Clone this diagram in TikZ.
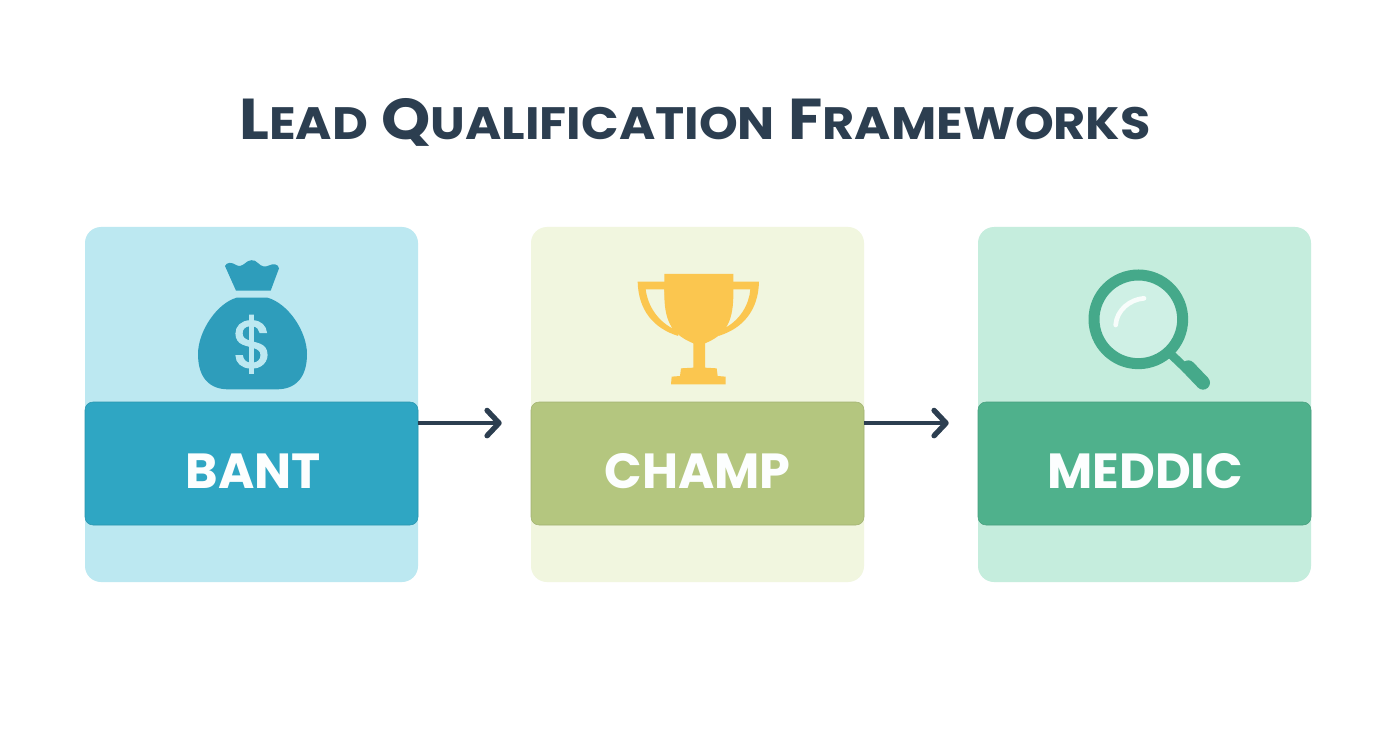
\documentclass[tikz,border=0pt]{standalone}
\usepackage{fontspec}
\usetikzlibrary{arrows.meta}
\setmainfont{Poppins}
\definecolor{inkdark}{HTML}{2C3E50}
\definecolor{bantpanel}{HTML}{BCE8F1}
\definecolor{bantband}{HTML}{2FA6C3}
\definecolor{bagblue}{HTML}{2E9DBB}
\definecolor{champpanel}{HTML}{F1F6DF}
\definecolor{champband}{HTML}{B4C67F}
\definecolor{cupyellow}{HTML}{FBC64F}
\definecolor{meddicpanel}{HTML}{C5EDDD}
\definecolor{meddicband}{HTML}{4FB18C}
\definecolor{lensgreen}{HTML}{45A98A}
\definecolor{lensglass}{HTML}{CFF0E5}
\newcommand{\lowcaps}[1]{{\fontsize{37}{37}\selectfont #1}}

\begin{document}
\begin{tikzpicture}[x=0.75pt,y=-0.75pt]
\tikzstyle{panelbox}=[rectangle,rounded corners=12pt,minimum width=249.75pt,minimum height=266.25pt,inner sep=0pt]
\tikzstyle{bandbox}=[rectangle,rounded corners=6pt,minimum width=249.75pt,minimum height=92.25pt,inner sep=0pt,line width=0.4pt]
\tikzstyle{bandlabel}=[text=white!95!bantpanel,font=\bfseries\fontsize{37}{37}\selectfont,inner sep=0pt]
\tikzstyle{flow}=[draw=inkdark,line width=3.2pt,-{Straight Barb[round,length=9pt,width=19pt,line width=4pt]}]
\useasboundingbox (0,0) rectangle (1392,752);
\fill[white] (0,0) rectangle (1392,752);

\node[text=inkdark,font=\bfseries\fontsize{47}{47}\selectfont,anchor=base,inner sep=0pt,yscale=0.92,transform shape] (title) at (695,140)
  {L\lowcaps{EAD} Q\lowcaps{UALIFICATION} F\lowcaps{RAMEWORKS}};

\node[panelbox,fill=bantpanel] (bantpanel) at (251.5,404.5) {};
\node[panelbox,fill=champpanel] (champpanel) at (697.5,404.5) {};
\node[panelbox,fill=meddicpanel] (meddicpanel) at (1144.5,404.5) {};
\node[bandbox,fill=bantband,draw=bantband!90!black] (bant) at (251.5,463.5) {};
\node[bandbox,fill=champband,draw=champband!90!black] (champ) at (697.5,463.5) {};
\node[bandbox,fill=meddicband,draw=meddicband!90!black] (meddic) at (1144.5,463.5) {};
\node[bandlabel] (bantlabel) at ([xshift=1.5pt,yshift=-5.5pt]bant.center) {BANT};
\node[bandlabel] (champlabel) at ([yshift=-5.5pt]champ.center) {CHAMP};
\node[bandlabel] (meddiclabel) at ([xshift=0.5pt,yshift=-5.5pt]meddic.center) {MEDDIC};

\draw[flow] ([yshift=-16pt]bant.north east) -- ([xshift=-21.75pt,yshift=-16pt]champ.north west);
\draw[flow] ([yshift=-16pt]champ.north east) -- ([xshift=-21.75pt,yshift=-16pt]meddic.north west);

% money bag
\begin{scope}[shift={(180,250)},scale=1/3]
\fill[bagblue] (135,48) .. controls (140,36) and (155,36) .. (168,45)
  .. controls (178,50) and (185,48) .. (195,40) .. controls (205,30) and (222,25) .. (235,40)
  .. controls (245,50) and (255,52) .. (268,46) .. controls (280,40) and (295,42) .. (297,55)
  -- (272,122) -- (168,122) -- cycle;
\fill[bagblue] (170,143) -- (262,143) .. controls (325,160) and (381,245) .. (381,312)
  .. controls (381,385) and (345,418) .. (290,418) -- (145,418)
  .. controls (90,418) and (54,385) .. (54,312) .. controls (54,245) and (110,160) .. (170,143) -- cycle;
\node[text=bantpanel,font=\fontsize{50}{50}\selectfont\addfontfeature{FakeBold=1.5},inner sep=0pt] (dollar) at (218,283) {\$};
\end{scope}

% trophy
\begin{scope}[shift={(625,260)},scale=1/3]
\fill[cupyellow,even odd rule] (38,65) -- (125,65) -- (160,228) .. controls (85,205) and (40,150) .. (38,65) -- cycle
  (62,88) .. controls (68,135) and (95,180) .. (142,205) .. controls (128,170) and (120,130) .. (118,88) -- cycle;
\fill[cupyellow,even odd rule] (402,65) -- (315,65) -- (280,228) .. controls (355,205) and (400,150) .. (402,65) -- cycle
  (376,88) .. controls (372,135) and (345,180) .. (298,205) .. controls (312,170) and (320,130) .. (322,88) -- cycle;
\fill[cupyellow] (118,42) -- (325,42) -- (325,110) .. controls (323,190) and (300,225) .. (240,250)
  -- (240,323) -- (275,325) -- (278,348) -- (302,350) -- (302,373) -- (138,373) -- (140,350)
  -- (165,348) -- (168,325) -- (205,323) -- (205,250) .. controls (145,225) and (120,190) .. (118,110) -- cycle;
\end{scope}

% magnifier
\begin{scope}[shift={(1075,260)},scale=1/3]
\fill[lensglass] (190,178) circle (133);
\draw[lensgreen,line width=8.25pt] (190,178) circle (133);
\draw[lensgreen,line width=6.5pt] (290,285) -- (335,328);
\draw[lensgreen,line width=10.5pt,line cap=round] (340,322) -- (384,368);
\draw[white!85!lensglass,line width=3.5pt,line cap=round] (122,195) .. controls (125,150) and (165,118) .. (207,115);
\end{scope}
\end{tikzpicture}
\end{document}
